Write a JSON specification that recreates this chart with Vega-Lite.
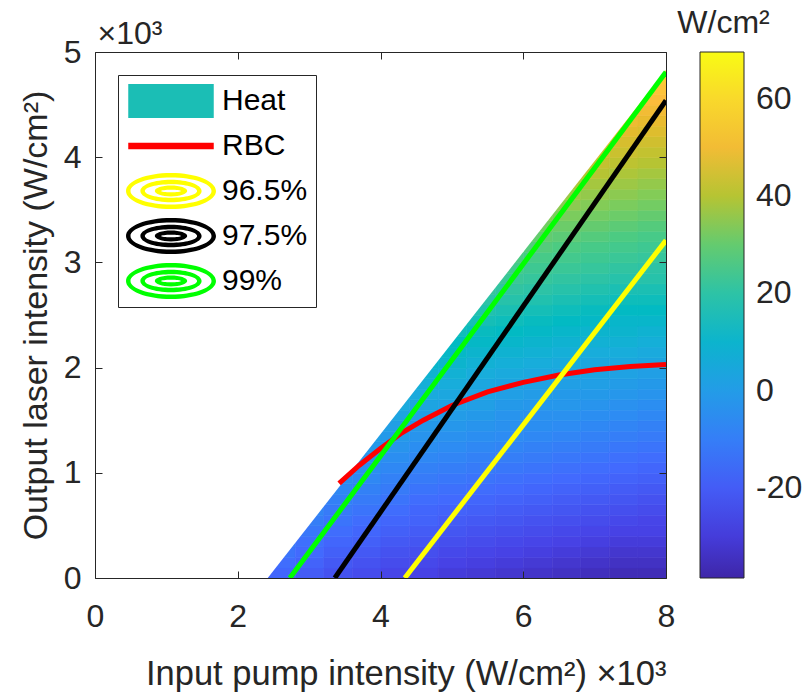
{
  "$schema": "https://vega.github.io/schema/vega-lite/v6.json",
  "width": 571,
  "height": 526,
  "autosize": {"type": "none"},
  "padding": {"left": 95, "top": 52, "right": 139, "bottom": 118},
  "background": "white",
  "config": {"view": {"stroke": null}, "rect": {"binSpacing": 0}},
  "layer": [
    {
      "data": {"values": [
{"x":2.4,"y":0,"h":-17},{"x":2.8,"y":0,"h":-20},{"x":3.2,"y":0,"h":-23},{"x":3.6,"y":0,"h":-25},{"x":4.0,"y":0,"h":-27},{"x":4.4,"y":0,"h":-28},{"x":4.8,"y":0,"h":-30},{"x":5.2,"y":0,"h":-31},{"x":5.6,"y":0,"h":-32},{"x":6.0,"y":0,"h":-33},{"x":6.4,"y":0,"h":-34},{"x":6.8,"y":0,"h":-35},{"x":7.2,"y":0,"h":-36},{"x":7.6,"y":0,"h":-36},
{"x":2.4,"y":0.1,"h":-15},{"x":2.8,"y":0.1,"h":-18},{"x":3.2,"y":0.1,"h":-21},{"x":3.6,"y":0.1,"h":-23},{"x":4.0,"y":0.1,"h":-25},{"x":4.4,"y":0.1,"h":-26},{"x":4.8,"y":0.1,"h":-28},{"x":5.2,"y":0.1,"h":-29},{"x":5.6,"y":0.1,"h":-30},{"x":6.0,"y":0.1,"h":-31},{"x":6.4,"y":0.1,"h":-32},{"x":6.8,"y":0.1,"h":-33},{"x":7.2,"y":0.1,"h":-34},{"x":7.6,"y":0.1,"h":-34},
{"x":2.4,"y":0.2,"h":-13},{"x":2.8,"y":0.2,"h":-16},{"x":3.2,"y":0.2,"h":-19},{"x":3.6,"y":0.2,"h":-21},{"x":4.0,"y":0.2,"h":-23},{"x":4.4,"y":0.2,"h":-24},{"x":4.8,"y":0.2,"h":-26},{"x":5.2,"y":0.2,"h":-27},{"x":5.6,"y":0.2,"h":-28},{"x":6.0,"y":0.2,"h":-29},{"x":6.4,"y":0.2,"h":-30},{"x":6.8,"y":0.2,"h":-31},{"x":7.2,"y":0.2,"h":-32},{"x":7.6,"y":0.2,"h":-32},
{"x":2.4,"y":0.3,"h":-11},{"x":2.8,"y":0.3,"h":-14},{"x":3.2,"y":0.3,"h":-17},{"x":3.6,"y":0.3,"h":-19},{"x":4.0,"y":0.3,"h":-21},{"x":4.4,"y":0.3,"h":-22},{"x":4.8,"y":0.3,"h":-24},{"x":5.2,"y":0.3,"h":-25},{"x":5.6,"y":0.3,"h":-26},{"x":6.0,"y":0.3,"h":-27},{"x":6.4,"y":0.3,"h":-28},{"x":6.8,"y":0.3,"h":-29},{"x":7.2,"y":0.3,"h":-30},{"x":7.6,"y":0.3,"h":-30},
{"x":2.8,"y":0.4,"h":-12},{"x":3.2,"y":0.4,"h":-15},{"x":3.6,"y":0.4,"h":-17},{"x":4.0,"y":0.4,"h":-19},{"x":4.4,"y":0.4,"h":-20},{"x":4.8,"y":0.4,"h":-22},{"x":5.2,"y":0.4,"h":-23},{"x":5.6,"y":0.4,"h":-24},{"x":6.0,"y":0.4,"h":-25},{"x":6.4,"y":0.4,"h":-26},{"x":6.8,"y":0.4,"h":-27},{"x":7.2,"y":0.4,"h":-28},{"x":7.6,"y":0.4,"h":-28},
{"x":2.8,"y":0.5,"h":-10},{"x":3.2,"y":0.5,"h":-13},{"x":3.6,"y":0.5,"h":-15},{"x":4.0,"y":0.5,"h":-17},{"x":4.4,"y":0.5,"h":-18},{"x":4.8,"y":0.5,"h":-20},{"x":5.2,"y":0.5,"h":-21},{"x":5.6,"y":0.5,"h":-22},{"x":6.0,"y":0.5,"h":-23},{"x":6.4,"y":0.5,"h":-24},{"x":6.8,"y":0.5,"h":-25},{"x":7.2,"y":0.5,"h":-26},{"x":7.6,"y":0.5,"h":-27},
{"x":2.8,"y":0.6,"h":-8},{"x":3.2,"y":0.6,"h":-11},{"x":3.6,"y":0.6,"h":-13},{"x":4.0,"y":0.6,"h":-15},{"x":4.4,"y":0.6,"h":-17},{"x":4.8,"y":0.6,"h":-18},{"x":5.2,"y":0.6,"h":-19},{"x":5.6,"y":0.6,"h":-20},{"x":6.0,"y":0.6,"h":-21},{"x":6.4,"y":0.6,"h":-22},{"x":6.8,"y":0.6,"h":-23},{"x":7.2,"y":0.6,"h":-24},{"x":7.6,"y":0.6,"h":-25},
{"x":3.2,"y":0.7,"h":-9},{"x":3.6,"y":0.7,"h":-11},{"x":4.0,"y":0.7,"h":-13},{"x":4.4,"y":0.7,"h":-15},{"x":4.8,"y":0.7,"h":-16},{"x":5.2,"y":0.7,"h":-17},{"x":5.6,"y":0.7,"h":-18},{"x":6.0,"y":0.7,"h":-19},{"x":6.4,"y":0.7,"h":-20},{"x":6.8,"y":0.7,"h":-21},{"x":7.2,"y":0.7,"h":-22},{"x":7.6,"y":0.7,"h":-23},
{"x":3.2,"y":0.8,"h":-7},{"x":3.6,"y":0.8,"h":-9},{"x":4.0,"y":0.8,"h":-11},{"x":4.4,"y":0.8,"h":-13},{"x":4.8,"y":0.8,"h":-14},{"x":5.2,"y":0.8,"h":-15},{"x":5.6,"y":0.8,"h":-16},{"x":6.0,"y":0.8,"h":-17},{"x":6.4,"y":0.8,"h":-18},{"x":6.8,"y":0.8,"h":-19},{"x":7.2,"y":0.8,"h":-20},{"x":7.6,"y":0.8,"h":-21},
{"x":3.2,"y":0.9,"h":-5},{"x":3.6,"y":0.9,"h":-7},{"x":4.0,"y":0.9,"h":-9},{"x":4.4,"y":0.9,"h":-11},{"x":4.8,"y":0.9,"h":-12},{"x":5.2,"y":0.9,"h":-13},{"x":5.6,"y":0.9,"h":-14},{"x":6.0,"y":0.9,"h":-15},{"x":6.4,"y":0.9,"h":-16},{"x":6.8,"y":0.9,"h":-17},{"x":7.2,"y":0.9,"h":-18},{"x":7.6,"y":0.9,"h":-19},
{"x":3.2,"y":1.0,"h":-3},{"x":3.6,"y":1.0,"h":-5},{"x":4.0,"y":1.0,"h":-7},{"x":4.4,"y":1.0,"h":-9},{"x":4.8,"y":1.0,"h":-10},{"x":5.2,"y":1.0,"h":-11},{"x":5.6,"y":1.0,"h":-12},{"x":6.0,"y":1.0,"h":-13},{"x":6.4,"y":1.0,"h":-14},{"x":6.8,"y":1.0,"h":-15},{"x":7.2,"y":1.0,"h":-16},{"x":7.6,"y":1.0,"h":-17},
{"x":3.6,"y":1.1,"h":-3},{"x":4.0,"y":1.1,"h":-5},{"x":4.4,"y":1.1,"h":-7},{"x":4.8,"y":1.1,"h":-8},{"x":5.2,"y":1.1,"h":-9},{"x":5.6,"y":1.1,"h":-10},{"x":6.0,"y":1.1,"h":-11},{"x":6.4,"y":1.1,"h":-12},{"x":6.8,"y":1.1,"h":-13},{"x":7.2,"y":1.1,"h":-14},{"x":7.6,"y":1.1,"h":-15},
{"x":3.6,"y":1.2,"h":-1},{"x":4.0,"y":1.2,"h":-3},{"x":4.4,"y":1.2,"h":-5},{"x":4.8,"y":1.2,"h":-6},{"x":5.2,"y":1.2,"h":-7},{"x":5.6,"y":1.2,"h":-8},{"x":6.0,"y":1.2,"h":-9},{"x":6.4,"y":1.2,"h":-10},{"x":6.8,"y":1.2,"h":-11},{"x":7.2,"y":1.2,"h":-12},{"x":7.6,"y":1.2,"h":-13},
{"x":3.6,"y":1.3,"h":1},{"x":4.0,"y":1.3,"h":-1},{"x":4.4,"y":1.3,"h":-3},{"x":4.8,"y":1.3,"h":-4},{"x":5.2,"y":1.3,"h":-5},{"x":5.6,"y":1.3,"h":-6},{"x":6.0,"y":1.3,"h":-7},{"x":6.4,"y":1.3,"h":-8},{"x":6.8,"y":1.3,"h":-9},{"x":7.2,"y":1.3,"h":-10},{"x":7.6,"y":1.3,"h":-11},
{"x":4.0,"y":1.4,"h":1},{"x":4.4,"y":1.4,"h":-1},{"x":4.8,"y":1.4,"h":-2},{"x":5.2,"y":1.4,"h":-3},{"x":5.6,"y":1.4,"h":-4},{"x":6.0,"y":1.4,"h":-5},{"x":6.4,"y":1.4,"h":-6},{"x":6.8,"y":1.4,"h":-7},{"x":7.2,"y":1.4,"h":-8},{"x":7.6,"y":1.4,"h":-9},
{"x":4.0,"y":1.5,"h":3},{"x":4.4,"y":1.5,"h":1},{"x":4.8,"y":1.5,"h":0},{"x":5.2,"y":1.5,"h":-1},{"x":5.6,"y":1.5,"h":-3},{"x":6.0,"y":1.5,"h":-4},{"x":6.4,"y":1.5,"h":-4},{"x":6.8,"y":1.5,"h":-5},{"x":7.2,"y":1.5,"h":-6},{"x":7.6,"y":1.5,"h":-7},
{"x":4.0,"y":1.6,"h":5},{"x":4.4,"y":1.6,"h":3},{"x":4.8,"y":1.6,"h":2},{"x":5.2,"y":1.6,"h":1},{"x":5.6,"y":1.6,"h":-1},{"x":6.0,"y":1.6,"h":-2},{"x":6.4,"y":1.6,"h":-2},{"x":6.8,"y":1.6,"h":-3},{"x":7.2,"y":1.6,"h":-4},{"x":7.6,"y":1.6,"h":-5},
{"x":4.0,"y":1.7,"h":7},{"x":4.4,"y":1.7,"h":5},{"x":4.8,"y":1.7,"h":4},{"x":5.2,"y":1.7,"h":2},{"x":5.6,"y":1.7,"h":1},{"x":6.0,"y":1.7,"h":0},{"x":6.4,"y":1.7,"h":-1},{"x":6.8,"y":1.7,"h":-1},{"x":7.2,"y":1.7,"h":-2},{"x":7.6,"y":1.7,"h":-3},
{"x":4.4,"y":1.8,"h":7},{"x":4.8,"y":1.8,"h":6},{"x":5.2,"y":1.8,"h":4},{"x":5.6,"y":1.8,"h":3},{"x":6.0,"y":1.8,"h":2},{"x":6.4,"y":1.8,"h":1},{"x":6.8,"y":1.8,"h":1},{"x":7.2,"y":1.8,"h":0},{"x":7.6,"y":1.8,"h":-1},
{"x":4.4,"y":1.9,"h":9},{"x":4.8,"y":1.9,"h":8},{"x":5.2,"y":1.9,"h":6},{"x":5.6,"y":1.9,"h":5},{"x":6.0,"y":1.9,"h":4},{"x":6.4,"y":1.9,"h":3},{"x":6.8,"y":1.9,"h":3},{"x":7.2,"y":1.9,"h":2},{"x":7.6,"y":1.9,"h":1},
{"x":4.4,"y":2.0,"h":11},{"x":4.8,"y":2.0,"h":10},{"x":5.2,"y":2.0,"h":8},{"x":5.6,"y":2.0,"h":7},{"x":6.0,"y":2.0,"h":6},{"x":6.4,"y":2.0,"h":5},{"x":6.8,"y":2.0,"h":4},{"x":7.2,"y":2.0,"h":4},{"x":7.6,"y":2.0,"h":3},
{"x":4.8,"y":2.1,"h":12},{"x":5.2,"y":2.1,"h":10},{"x":5.6,"y":2.1,"h":9},{"x":6.0,"y":2.1,"h":8},{"x":6.4,"y":2.1,"h":7},{"x":6.8,"y":2.1,"h":6},{"x":7.2,"y":2.1,"h":6},{"x":7.6,"y":2.1,"h":5},
{"x":4.8,"y":2.2,"h":13},{"x":5.2,"y":2.2,"h":12},{"x":5.6,"y":2.2,"h":11},{"x":6.0,"y":2.2,"h":10},{"x":6.4,"y":2.2,"h":9},{"x":6.8,"y":2.2,"h":8},{"x":7.2,"y":2.2,"h":8},{"x":7.6,"y":2.2,"h":7},
{"x":4.8,"y":2.3,"h":15},{"x":5.2,"y":2.3,"h":14},{"x":5.6,"y":2.3,"h":13},{"x":6.0,"y":2.3,"h":12},{"x":6.4,"y":2.3,"h":11},{"x":6.8,"y":2.3,"h":10},{"x":7.2,"y":2.3,"h":10},{"x":7.6,"y":2.3,"h":9},
{"x":4.8,"y":2.4,"h":17},{"x":5.2,"y":2.4,"h":16},{"x":5.6,"y":2.4,"h":15},{"x":6.0,"y":2.4,"h":14},{"x":6.4,"y":2.4,"h":13},{"x":6.8,"y":2.4,"h":12},{"x":7.2,"y":2.4,"h":11},{"x":7.6,"y":2.4,"h":11},
{"x":5.2,"y":2.5,"h":18},{"x":5.6,"y":2.5,"h":17},{"x":6.0,"y":2.5,"h":16},{"x":6.4,"y":2.5,"h":15},{"x":6.8,"y":2.5,"h":14},{"x":7.2,"y":2.5,"h":13},{"x":7.6,"y":2.5,"h":13},
{"x":5.2,"y":2.6,"h":20},{"x":5.6,"y":2.6,"h":19},{"x":6.0,"y":2.6,"h":18},{"x":6.4,"y":2.6,"h":17},{"x":6.8,"y":2.6,"h":16},{"x":7.2,"y":2.6,"h":15},{"x":7.6,"y":2.6,"h":15},
{"x":5.2,"y":2.7,"h":22},{"x":5.6,"y":2.7,"h":21},{"x":6.0,"y":2.7,"h":20},{"x":6.4,"y":2.7,"h":19},{"x":6.8,"y":2.7,"h":18},{"x":7.2,"y":2.7,"h":17},{"x":7.6,"y":2.7,"h":17},
{"x":5.6,"y":2.8,"h":23},{"x":6.0,"y":2.8,"h":22},{"x":6.4,"y":2.8,"h":21},{"x":6.8,"y":2.8,"h":20},{"x":7.2,"y":2.8,"h":19},{"x":7.6,"y":2.8,"h":19},
{"x":5.6,"y":2.9,"h":25},{"x":6.0,"y":2.9,"h":24},{"x":6.4,"y":2.9,"h":23},{"x":6.8,"y":2.9,"h":22},{"x":7.2,"y":2.9,"h":21},{"x":7.6,"y":2.9,"h":20},
{"x":5.6,"y":3.0,"h":27},{"x":6.0,"y":3.0,"h":26},{"x":6.4,"y":3.0,"h":25},{"x":6.8,"y":3.0,"h":24},{"x":7.2,"y":3.0,"h":23},{"x":7.6,"y":3.0,"h":22},
{"x":6.0,"y":3.1,"h":28},{"x":6.4,"y":3.1,"h":27},{"x":6.8,"y":3.1,"h":26},{"x":7.2,"y":3.1,"h":25},{"x":7.6,"y":3.1,"h":24},
{"x":6.0,"y":3.2,"h":30},{"x":6.4,"y":3.2,"h":29},{"x":6.8,"y":3.2,"h":28},{"x":7.2,"y":3.2,"h":27},{"x":7.6,"y":3.2,"h":26},
{"x":6.0,"y":3.3,"h":32},{"x":6.4,"y":3.3,"h":31},{"x":6.8,"y":3.3,"h":30},{"x":7.2,"y":3.3,"h":29},{"x":7.6,"y":3.3,"h":28},
{"x":6.0,"y":3.4,"h":34},{"x":6.4,"y":3.4,"h":33},{"x":6.8,"y":3.4,"h":32},{"x":7.2,"y":3.4,"h":31},{"x":7.6,"y":3.4,"h":30},
{"x":6.4,"y":3.5,"h":35},{"x":6.8,"y":3.5,"h":34},{"x":7.2,"y":3.5,"h":33},{"x":7.6,"y":3.5,"h":32},
{"x":6.4,"y":3.6,"h":37},{"x":6.8,"y":3.6,"h":36},{"x":7.2,"y":3.6,"h":35},{"x":7.6,"y":3.6,"h":34},
{"x":6.4,"y":3.7,"h":39},{"x":6.8,"y":3.7,"h":38},{"x":7.2,"y":3.7,"h":37},{"x":7.6,"y":3.7,"h":36},
{"x":6.8,"y":3.8,"h":40},{"x":7.2,"y":3.8,"h":39},{"x":7.6,"y":3.8,"h":38},
{"x":6.8,"y":3.9,"h":42},{"x":7.2,"y":3.9,"h":41},{"x":7.6,"y":3.9,"h":40},
{"x":6.8,"y":4.0,"h":44},{"x":7.2,"y":4.0,"h":43},{"x":7.6,"y":4.0,"h":42},
{"x":6.8,"y":4.1,"h":46},{"x":7.2,"y":4.1,"h":45},{"x":7.6,"y":4.1,"h":44},
{"x":7.2,"y":4.2,"h":47},{"x":7.6,"y":4.2,"h":46},
{"x":7.2,"y":4.3,"h":49},{"x":7.6,"y":4.3,"h":48},
{"x":7.2,"y":4.4,"h":51},{"x":7.6,"y":4.4,"h":50},
{"x":7.6,"y":4.5,"h":52},
{"x":7.6,"y":4.6,"h":54},
{"x":7.6,"y":4.7,"h":56},
{"x":7.6,"y":4.8,"h":58}
      ]},
      "mark": {"type": "rect", "clip": true, "strokeWidth": 0.6},
      "encoding": {
        "x": {"field": "x", "type": "quantitative", "bin": {"binned": true, "step": 0.4},
          "scale": {"domain": [0, 8], "nice": false, "zero": false},
          "axis": {"orient": "bottom", "values": [0, 2, 4, 6, 8], "format": "d", "title": "Input pump intensity (W/cm²) ×10³", "titleAnchor": "end",
            "tickSize": -7, "labelPadding": 30, "titlePadding": 25, "labelFlush": false, "grid": false, "zindex": 1,
            "domainColor": "#262626", "tickColor": "#262626", "labelColor": "#262626", "titleColor": "#262626",
            "labelFont": "Liberation Sans", "titleFont": "Liberation Sans", "labelFontSize": 32, "titleFontSize": 34.5, "titleFontWeight": "normal"}},
        "y": {"field": "y", "type": "quantitative", "bin": {"binned": true, "step": 0.1},
          "scale": {"domain": [0, 5], "nice": false},
          "axis": {"orient": "left", "values": [0, 1, 2, 3, 4, 5], "format": "d", "title": "Output laser intensity (W/cm²)",
            "tickSize": -7, "labelPadding": 21, "titlePadding": 10, "labelFlush": false, "grid": false, "zindex": 1,
            "domainColor": "#262626", "tickColor": "#262626", "labelColor": "#262626", "titleColor": "#262626",
            "labelFont": "Liberation Sans", "titleFont": "Liberation Sans", "labelFontSize": 32, "titleFontSize": 34, "titleFontWeight": "normal"}},
        "color": {"field": "h", "type": "quantitative",
          "scale": {"domain": [-38.5, -28.2, -16.2, -5.9, 6.1, 13.0, 19.8, 26.7, 33.6, 40.4, 47.3, 52.5, 59.3, 69.6],
            "range": ["#3e26a8", "#4741e5", "#4269fe", "#2d8cf3", "#18addb", "#02bac3", "#2cc3a7", "#4acb84", "#80cc59", "#b9c431", "#e6bb2d", "#febd3c", "#f9d62d", "#f9fb14"],
            "interpolate": "rgb"},
          "legend": {"orient": "none", "legendX": 605, "legendY": 0, "padding": 0, "direction": "vertical", "gradientLength": 526, "gradientThickness": 44,
            "values": [-20, 0, 20, 40, 60], "title": null, "labelExpr": "datum.value < 0 ? '-' + (-datum.value) : '' + datum.value",
            "labelFontSize": 32, "labelFont": "Liberation Sans", "labelColor": "#262626", "labelOffset": 12, "labelOverlap": false,
            "gradientStrokeColor": "#262626", "gradientStrokeWidth": 1}},
        "stroke": {"field": "h", "type": "quantitative", "legend": null,
          "scale": {"domain": [-38.5, -28.2, -16.2, -5.9, 6.1, 13.0, 19.8, 26.7, 33.6, 40.4, 47.3, 52.5, 59.3, 69.6],
            "range": ["#3e26a8", "#4741e5", "#4269fe", "#2d8cf3", "#18addb", "#02bac3", "#2cc3a7", "#4acb84", "#80cc59", "#b9c431", "#e6bb2d", "#febd3c", "#f9d62d", "#f9fb14"],
            "interpolate": "rgb"}}
      }
    },
    {
      "data": {"values": [{"mx": 0, "m1": 0, "m2": 5}, {"mx": 2.42, "m1": 0, "m2": 5}, {"mx": 8, "m1": 4.83, "m2": 5}]},
      "mark": {"type": "area", "color": "white", "clip": true},
      "encoding": {
        "x": {"field": "mx", "type": "quantitative", "scale": {"domain": [0, 8], "nice": false, "zero": false}, "axis": null},
        "y": {"field": "m1", "type": "quantitative", "scale": {"domain": [0, 5], "nice": false}, "axis": null},
        "y2": {"field": "m2"}
      }
    },
    {
      "data": {"values": [
        {"s": "RBC", "x": 3.42, "y": 0.9}, {"s": "RBC", "x": 3.7, "y": 1.07}, {"s": "RBC", "x": 4.0, "y": 1.23}, {"s": "RBC", "x": 4.3, "y": 1.38}, {"s": "RBC", "x": 4.6, "y": 1.5}, {"s": "RBC", "x": 5.0, "y": 1.64}, {"s": "RBC", "x": 5.5, "y": 1.77}, {"s": "RBC", "x": 6.0, "y": 1.86}, {"s": "RBC", "x": 6.5, "y": 1.93}, {"s": "RBC", "x": 7.0, "y": 1.98}, {"s": "RBC", "x": 7.5, "y": 2.01}, {"s": "RBC", "x": 8.0, "y": 2.03},
        {"s": "96.5%", "x": 4.34, "y": 0}, {"s": "96.5%", "x": 8.0, "y": 3.21},
        {"s": "97.5%", "x": 3.36, "y": 0}, {"s": "97.5%", "x": 8.0, "y": 4.54},
        {"s": "99%", "x": 2.73, "y": 0}, {"s": "99%", "x": 8.0, "y": 4.81}
      ]},
      "mark": {"type": "line", "strokeWidth": 5, "clip": true},
      "encoding": {
        "x": {"field": "x", "type": "quantitative", "scale": {"domain": [0, 8], "nice": false, "zero": false},
          "axis": {"orient": "top", "values": [0, 2, 4, 6, 8], "labels": false, "tickSize": -7, "grid": false, "zindex": 1, "domainColor": "#262626", "tickColor": "#262626",
            "title": "×10³", "titleX": 2, "titleY": -9, "titleAlign": "left", "titleBaseline": "alphabetic", "titleAngle": 0,
            "titleFont": "Liberation Sans", "titleFontSize": 32, "titleFontWeight": "normal", "titleColor": "#262626"}},
        "y": {"field": "y", "type": "quantitative", "scale": {"domain": [0, 5], "nice": false},
          "axis": {"orient": "right", "values": [0, 1, 2, 3, 4, 5], "labels": false, "tickSize": -7, "grid": false, "zindex": 1, "domainColor": "#262626", "tickColor": "#262626",
            "title": "W/cm²", "titleX": 57, "titleY": -20, "titleAlign": "center", "titleBaseline": "alphabetic", "titleAngle": 0,
            "titleFont": "Liberation Sans", "titleFontSize": 32, "titleFontWeight": "normal", "titleColor": "#262626"}},
        "color": {"field": "s", "type": "nominal", "legend": null,
          "scale": {"domain": ["Heat", "RBC", "96.5%", "97.5%", "99%"], "range": ["#1bbeb5", "#ff0000", "#ffff00", "#000000", "#00ff00"]}}
      }
    },
    {
      "data": {"values": [{"s": "Heat"}, {"s": "RBC"}, {"s": "96.5%"}, {"s": "97.5%"}, {"s": "99%"}]},
      "mark": {"type": "point", "filled": true, "opacity": 0},
      "encoding": {
        "x": {"datum": 4, "type": "quantitative", "scale": {"domain": [0, 8], "nice": false, "zero": false}, "axis": null},
        "y": {"datum": 2, "type": "quantitative", "scale": {"domain": [0, 5], "nice": false}, "axis": null},
        "color": {"field": "s", "type": "nominal",
          "scale": {"domain": ["Heat", "RBC", "96.5%", "97.5%", "99%"], "range": ["#1bbeb5", "#ff0000", "#ffff00", "#000000", "#00ff00"]},
          "legend": {"orient": "top-left", "offset": 23, "title": null, "symbolSize": 8100, "clipHeight": 36, "rowPadding": 9, "padding": 8,
            "strokeColor": "#262626", "fillColor": "white", "labelFontSize": 30, "labelFont": "Liberation Sans", "labelColor": "#000000",
            "labelOffset": 6, "symbolOpacity": 1, "symbolStrokeWidth": 0, "labelLimit": 0}},
        "shape": {"field": "s", "type": "nominal",
          "scale": {"domain": ["Heat", "RBC", "96.5%", "97.5%", "99%"],
            "range": [
              "M-0.95,-0.38L0.95,-0.38L0.95,0.38L-0.95,0.38Z",
              "M-0.95,-0.07L0.95,-0.07L0.95,0.07L-0.95,0.07Z",
              "M-1,0A1,0.4,0,1,1,1,0A1,0.4,0,1,1,-1,0ZM-0.9,0A0.9,0.3,0,1,0,0.9,0A0.9,0.3,0,1,0,-0.9,0ZM-0.68,0A0.68,0.25,0,1,1,0.68,0A0.68,0.25,0,1,1,-0.68,0ZM-0.58,0A0.58,0.15,0,1,0,0.58,0A0.58,0.15,0,1,0,-0.58,0ZM-0.36,0A0.36,0.12,0,1,1,0.36,0A0.36,0.12,0,1,1,-0.36,0ZM-0.22,0A0.22,0.03,0,1,0,0.22,0A0.22,0.03,0,1,0,-0.22,0Z",
              "M-1,0A1,0.4,0,1,1,1,0A1,0.4,0,1,1,-1,0ZM-0.9,0A0.9,0.3,0,1,0,0.9,0A0.9,0.3,0,1,0,-0.9,0ZM-0.68,0A0.68,0.25,0,1,1,0.68,0A0.68,0.25,0,1,1,-0.68,0ZM-0.58,0A0.58,0.15,0,1,0,0.58,0A0.58,0.15,0,1,0,-0.58,0ZM-0.36,0A0.36,0.12,0,1,1,0.36,0A0.36,0.12,0,1,1,-0.36,0ZM-0.22,0A0.22,0.03,0,1,0,0.22,0A0.22,0.03,0,1,0,-0.22,0Z",
              "M-1,0A1,0.4,0,1,1,1,0A1,0.4,0,1,1,-1,0ZM-0.9,0A0.9,0.3,0,1,0,0.9,0A0.9,0.3,0,1,0,-0.9,0ZM-0.68,0A0.68,0.25,0,1,1,0.68,0A0.68,0.25,0,1,1,-0.68,0ZM-0.58,0A0.58,0.15,0,1,0,0.58,0A0.58,0.15,0,1,0,-0.58,0ZM-0.36,0A0.36,0.12,0,1,1,0.36,0A0.36,0.12,0,1,1,-0.36,0ZM-0.22,0A0.22,0.03,0,1,0,0.22,0A0.22,0.03,0,1,0,-0.22,0Z"
            ]},
          "legend": {"orient": "top-left", "offset": 23, "title": null, "symbolSize": 8100, "clipHeight": 36, "rowPadding": 9, "padding": 8,
            "strokeColor": "#262626", "fillColor": "white", "labelFontSize": 30, "labelFont": "Liberation Sans", "labelColor": "#000000",
            "labelOffset": 6, "symbolOpacity": 1, "symbolStrokeWidth": 0, "labelLimit": 0}}
      }
    }
  ],
  "resolve": {"scale": {"color": "independent"}, "axis": {"x": "independent", "y": "independent"}, "legend": {"color": "independent", "shape": "independent"}}
}
